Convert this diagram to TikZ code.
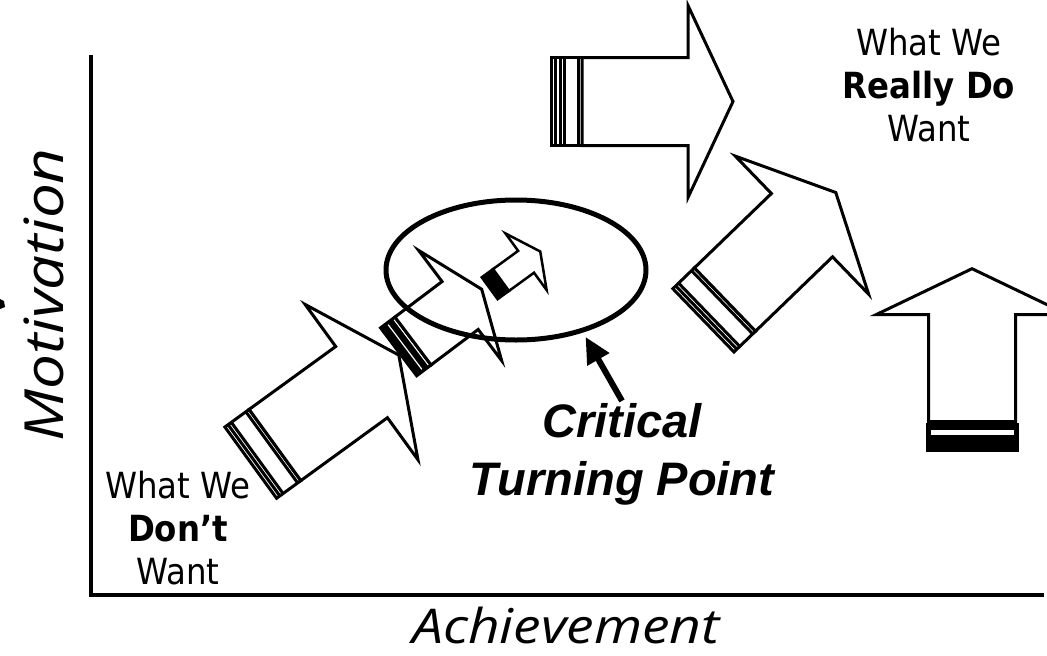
\documentclass[tikz,border=0pt]{standalone}
\usepackage{fontspec}
\setmainfont{DejaVu Sans Condensed}
\newfontfamily\handfont[FakeStretch=1.15]{Open Sans}
\newfontfamily\calloutfont{Liberation Sans}
\usetikzlibrary{arrows.meta,shapes.geometric}

\tikzset{
  arrowline/.style={draw=black,fill=white,line width=3pt,line join=miter},
  stripe/.style={line width=3pt},
  axisline/.style={line width=4.5pt,line cap=rect},
  pointer/.style={line width=6pt,shorten >=5pt},
  note/.style={font=\fontsize{36}{43}\selectfont,anchor=base,inner sep=0pt},
  axislabel/.style={font=\handfont\itshape,inner sep=0pt},
  callout/.style={font=\calloutfont\bfseries\itshape\fontsize{47}{58}\selectfont,align=center,inner sep=2pt}
}

% block arrow pointing along x: half width, body length, head half width, head length
\newcommand{\blockarrow}[4]{%
  \filldraw[arrowline] (0,-#1) -- (#2,-#1) -- (#2,-#3) -- ({#2+#4},0)
    -- (#2,#3) -- (#2,#1) -- (0,#1) -- cycle;}

\begin{document}
\begin{tikzpicture}[>={Triangle[length=26pt,width=24pt]},x=1pt,y=-1pt]
  \useasboundingbox (0,0) rectangle (1047,656);

  % axes
  \draw[axisline] (91,57) -- (91,595) -- (1042,595);
  \node[axislabel,rotate=90,anchor=base] (mot) at (63,295) {\fontsize{54}{60}\selectfont Motivation};
  \node[axislabel,anchor=base] (ach) at (566,643) {\fontsize{48}{56}\selectfont Achievement};
  \fill (0,299) -- (4,301) -- (5,307) -- (0,309) -- cycle;

  % big arrow, lower left
  \begin{scope}[shift={(275,445)},rotate=36]
    \filldraw[arrowline] (-30,-44) rectangle (0,44);
    \foreach \s in {-26,-22,-4} \draw[stripe] (\s,-44) -- (\s,44);
    \blockarrow{44}{107}{96}{46}
  \end{scope}

  % middle arrow with black tail
  \begin{scope}[shift={(413,341)},rotate=37]
    \filldraw[arrowline] (-18,-30) rectangle (0,30);
    \fill (-18,-30) rectangle (-3,30);
    \draw[white,line width=1.2pt] (-10,-28) -- (-10,28);
    \blockarrow{30}{59}{69}{27}
  \end{scope}

  % small arrow
  \begin{scope}[shift={(501,280)},rotate=36,arrowline/.append style={line width=2.5pt}]
    \filldraw[arrowline,fill=black] (-14,-13.5) rectangle (0,13.5);
    \blockarrow{13.5}{31}{35}{17.5}
  \end{scope}

  \node[draw,ellipse,line width=5pt,minimum width=260pt,minimum height=140pt,inner sep=0pt] (turn) at (516,270) {};

  % top arrow
  \begin{scope}[shift={(582,101.5)}]
    \filldraw[arrowline] (-31,-44) rectangle (0,44);
    \foreach \s in {-27,-22,-18,-4} \draw[stripe] (\s,-44) -- (\s,44);
    \blockarrow{44}{106}{96}{45}
  \end{scope}

  % right arrow
  \begin{scope}[shift={(725,299.5)},rotate=44]
    \filldraw[arrowline] (-30,-44) rectangle (0,44);
    \foreach \s in {-26,-22,-4} \draw[stripe] (\s,-44) -- (\s,44);
    \blockarrow{44}{107}{96}{47}
  \end{scope}

  % upright arrow
  \begin{scope}[shift={(972,421.7)},rotate=90]
    \fill (-30,-46.5) rectangle (-1.5,46.5);
    \fill[white] (-13.5,-41.5) rectangle (-8.5,41.5);
    \blockarrow{43.5}{107}{96}{46}
  \end{scope}

  % labels
  \node[note] (wwTop) at (929,55) {What We};
  \node[note] (reallyDo) at (929,98) {\bfseries Really Do};
  \node[note] (wantTop) at (929,141) {Want};
  \node[note] (wwLow) at (178,498) {What We};
  \node[note] (dont) at (178,541) {\bfseries Don’t};
  \node[note] (wantLow) at (178,584) {Want};

  \node[callout] (tp) at (622,454) {Critical\\Turning Point};
  \draw[->,pointer] (tp.north) -- (turn.-43);
\end{tikzpicture}
\end{document}
